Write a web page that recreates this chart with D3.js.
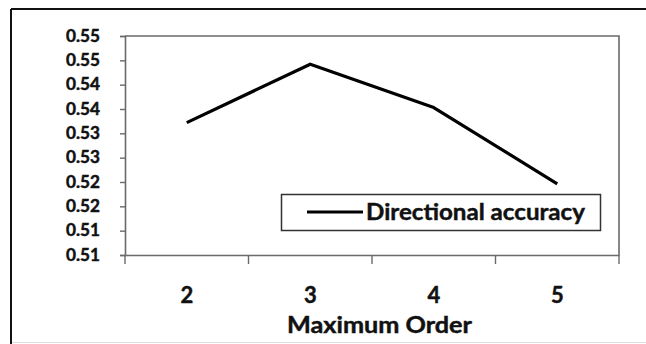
<!DOCTYPE html>
<html>
<head>
<meta charset="utf-8">
<script src="https://cdn.jsdelivr.net/npm/d3@7"></script>
<style>
  html, body { margin: 0; padding: 0; background: #fff; }
  svg { display: block; }
  text { font-family: Lato, "Open Sans", "Liberation Sans", sans-serif; font-weight: 700; fill: #111; stroke: #111; stroke-width: 0.45; }
</style>
</head>
<body>
<svg id="chart" width="646" height="344"></svg>
<script>
// Directional accuracy by maximum order
const categories = ["2", "3", "4", "5"];
const accuracy = [0.5372, 0.5492, 0.5403, 0.5246];
const yTickValues = [0.510, 0.515, 0.520, 0.525, 0.530, 0.535, 0.540, 0.545, 0.550, 0.555];
const yTickLabels = ["0.51", "0.51", "0.52", "0.52", "0.53", "0.53", "0.54", "0.54", "0.55", "0.55"];
const seriesName = "Directional accuracy";
const xTitle = "Maximum Order";

const svg = d3.select("#chart");
const plot = { left: 125, right: 619, top: 36, bottom: 255 };

// outer frame of the figure
svg.append("line").attr("x1", 11).attr("x2", 646).attr("y1", 9).attr("y2", 9)
  .attr("stroke", "#111").attr("stroke-width", 2);
svg.append("line").attr("x1", 11).attr("x2", 11).attr("y1", 9).attr("y2", 344)
  .attr("stroke", "#111").attr("stroke-width", 2);
svg.append("line").attr("x1", 12).attr("x2", 646).attr("y1", 342.5).attr("y2", 342.5)
  .attr("stroke", "#ddd").attr("stroke-width", 1);

const x = d3.scaleBand().domain(categories).range([plot.left, plot.right]).padding(0);
const y = d3.scaleLinear().domain([0.510, 0.555]).range([plot.bottom, plot.top]);

// plot area border (top and right)
svg.append("path")
  .attr("d", `M${plot.left},${plot.top}H${plot.right}V${plot.bottom}`)
  .attr("fill", "none").attr("stroke", "#6a6a6a").attr("stroke-width", 1.6);

// y axis
const yAxis = svg.append("g").attr("transform", `translate(${plot.left},0)`)
  .call(d3.axisLeft(y).tickValues(yTickValues).tickSize(5).tickPadding(22)
    .tickFormat((d, i) => yTickLabels[i]));
yAxis.select(".domain").attr("stroke", "#6a6a6a").attr("stroke-width", 1.6);
yAxis.selectAll(".tick line").attr("stroke", "#6a6a6a").attr("stroke-width", 1.4);
yAxis.selectAll(".tick text").attr("font-size", 16.5).attr("fill", "#111")
  .attr("font-family", "Lato, sans-serif").attr("font-weight", 700)
  .attr("text-anchor", "start").attr("x", -59)
  .attr("textLength", 34).attr("lengthAdjust", "spacingAndGlyphs");

// x axis: labels centred in bands, ticks on band boundaries
const xAxis = svg.append("g").attr("transform", `translate(0,${plot.bottom})`)
  .call(d3.axisBottom(x).tickSize(0).tickPadding(32));
xAxis.select(".domain").attr("stroke", "#6a6a6a").attr("stroke-width", 1.6);
xAxis.selectAll(".tick text").attr("font-size", 22).attr("fill", "#111")
  .attr("font-family", "Lato, sans-serif").attr("font-weight", 700);
const boundaries = categories.map(c => x(c)).concat([x.range()[1]]);
xAxis.selectAll("line.boundary").data(boundaries).join("line")
  .attr("class", "boundary")
  .attr("x1", d => d).attr("x2", d => d).attr("y1", 0).attr("y2", 9)
  .attr("stroke", "#6a6a6a").attr("stroke-width", 1.4);

svg.append("text").attr("x", 287).attr("y", 333)
  .attr("font-size", 22.5).attr("textLength", 185).attr("lengthAdjust", "spacingAndGlyphs")
  .text(xTitle);

// data line
const line = d3.line()
  .x((d, i) => x(categories[i]) + x.bandwidth() / 2)
  .y(d => y(d));
svg.append("path").datum(accuracy)
  .attr("d", line).attr("fill", "none")
  .attr("stroke", "#000").attr("stroke-width", 3.2)
  .attr("stroke-linejoin", "round").attr("stroke-linecap", "butt");

// legend
const legend = svg.append("g");
legend.append("rect").attr("x", 281.5).attr("y", 194.5).attr("width", 319).attr("height", 36)
  .attr("fill", "#fff").attr("stroke", "#333").attr("stroke-width", 1.5);
legend.append("line").attr("x1", 307).attr("x2", 363).attr("y1", 212).attr("y2", 212)
  .attr("stroke", "#000").attr("stroke-width", 3);
legend.append("text").attr("x", 366).attr("y", 220)
  .attr("font-size", 23).attr("textLength", 219).attr("lengthAdjust", "spacingAndGlyphs")
  .text(seriesName);
</script>
</body>
</html>
